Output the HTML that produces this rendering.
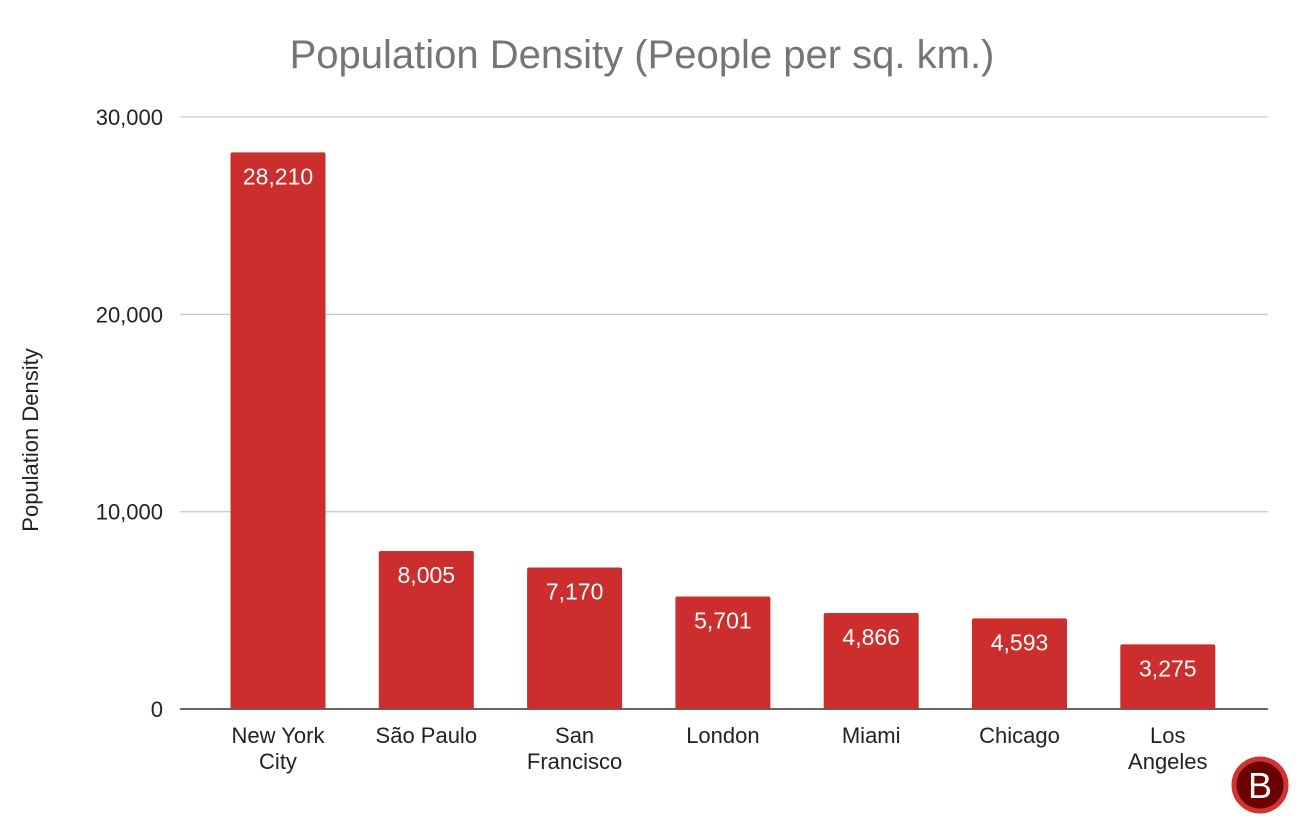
<!DOCTYPE html>
<html><head><meta charset="utf-8"><style>
body{margin:0;background:#fff;width:1310px;height:820px;overflow:hidden;font-family:"Liberation Sans",sans-serif}
</style></head><body>
<svg id="chart" width="1310" height="820" xmlns="http://www.w3.org/2000/svg">
<text x="642" y="68" text-anchor="middle" font-size="40" fill="#757575" font-family="Liberation Sans, sans-serif">Population Density (People per sq. km.)</text>
<text transform="translate(38,440) rotate(-90)" text-anchor="middle" font-size="22" fill="#222">Population Density</text>
<g id="grid"></g><g id="bars"></g><g id="xlabels"></g>
<g>
<circle cx="1260" cy="785" r="26" fill="#6b0000" stroke="#d23232" stroke-width="5"/>
<text x="1260" y="798" text-anchor="middle" font-size="36" fill="#fff">B</text>
</g>
</svg>
<script>
const categories=[["New York","City"],["São Paulo"],["San","Francisco"],["London"],["Miami"],["Chicago"],["Los","Angeles"]];
const values=[28210,8005,7170,5701,4866,4593,3275];
const labels=["28,210","8,005","7,170","5,701","4,866","4,593","3,275"];
const yTicks=[0,10000,20000,30000];
const yTickLabels=["0","10,000","20,000","30,000"];
const NS="http://www.w3.org/2000/svg";
const y0=709,yTop=117,yMax=30000,xL=180,xR=1268;
const y=v=>y0-(v/yMax)*(y0-yTop);
const step=148.3,x=i=>278+i*step,bw=95;
function mk(t,a,p){const e=document.createElementNS(NS,t);for(const k in a)e.setAttribute(k,a[k]);p.appendChild(e);return e;}
const g=document.getElementById('grid'),b=document.getElementById('bars'),xl=document.getElementById('xlabels');
yTicks.forEach((v,i)=>{
 const l=mk('line',{x1:xL,x2:xR,y1:y(v),y2:y(v),stroke:v===0?'#333':'#ccc','stroke-width':v===0?1.5:1.3},g);
 
 
 const t=mk('text',{x:163,y:y(v)+8,'text-anchor':'end','font-size':22,fill:'#222'},g);
 t.textContent=yTickLabels[i];
 
 
});
values.forEach((v,i)=>{
 const r=mk('rect',{x:x(i)-bw/2,y:y(v),width:bw,height:y0-y(v),fill:'#cc2d2d',rx:2},b);
 
 
 const t=mk('text',{x:x(i),y:y(v)+32,'text-anchor':'middle','font-size':23,fill:'#fff'},b);
 t.textContent=labels[i];
 
 
 categories[i].forEach((s,j)=>{
  const c=mk('text',{x:x(i),y:743+j*26,'text-anchor':'middle','font-size':22,fill:'#222'},xl);
  c.textContent=s;
  
  
 });
});
</script>
</body></html>
